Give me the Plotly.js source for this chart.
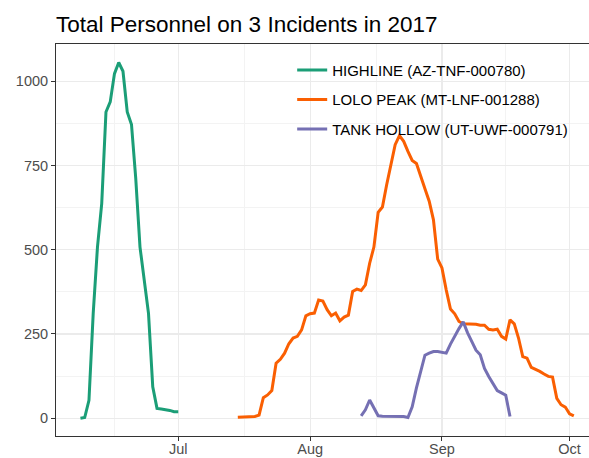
<!DOCTYPE html>
<html>
<head>
<meta charset="utf-8">
<script src="https://cdn.plot.ly/plotly-3.0.1.min.js"></script>
<style>
html, body { margin: 0; padding: 0; overflow: hidden; background: #fff; }
#chart { width: 600px; height: 458px; }
</style>
</head>
<body>
<div id="chart"></div>
<script>
// ---- data (daily values) ----
const seriesNames = ['HIGHLINE (AZ-TNF-000780)', 'LOLO PEAK (MT-LNF-001288)', 'TANK HOLLOW (UT-UWF-000791)'];
const highlineStart = '2017-06-08';
const lolopeakStart = '2017-07-15';
const tankhollowStart = '2017-08-13';

const highlineValues = [0, 2, 53, 311, 508, 637, 909, 939, 1023, 1056, 1030, 909, 872, 712, 508, 413, 311, 93, 29, 27, 26, 23, 19, 19];

const lolopeakValues = [3, 3, 3, 3, 5, 9, 61, 69, 82, 163,
  175, 193, 221, 238, 243, 262, 304, 310, 312, 351,
  348, 322, 304, 312, 289, 300, 306, 376, 383, 379,
  396, 460, 508, 611, 627, 693, 758, 812, 839, 822,
  792, 765, 756, 716, 681, 644, 589, 472, 446, 381,
  324, 310, 287, 280, 280, 279, 279, 276, 276, 264,
  262, 264, 243, 235, 292, 280, 238, 183, 178, 151,
  146, 139, 131, 124, 122, 59, 40, 33, 13, 7];

const tankhollowValues = [7, 25, 54, 29, 7, 6, 6, 6, 5, 5,
  5, 2, 34, 90, 138, 187, 193, 198, 198, 195,
  193, 220, 245, 266, 286, 254, 228, 202, 188, 148,
  124, 104, 82, 75, 68, 5];

const xTickVals = ['2017-07-01', '2017-08-01', '2017-09-01', '2017-10-01'];
const xTickText = ['Jul', 'Aug', 'Sep', 'Oct'];
const xMinorVals = ['2017-06-16', '2017-07-16 12:00', '2017-08-16 12:00', '2017-09-16'];
const yTickVals = [0, 250, 500, 750, 1000];
const yMinorVals = [125, 375, 625, 875];

const colors = ['#1B9E77', '#FA5F02', '#7570B3'];

// ---- build daily dates ----
function dailyDates(start, n) {
  const out = [];
  const d0 = new Date(start + 'T00:00:00Z');
  for (let i = 0; i < n; i++) {
    const d = new Date(d0.getTime() + i * 86400000);
    out.push(d.toISOString().slice(0, 10));
  }
  return out;
}

const starts = [highlineStart, lolopeakStart, tankhollowStart];
const values = [highlineValues, lolopeakValues, tankhollowValues];

const traces = values.map((v, i) => ({
  type: 'scatter',
  mode: 'lines',
  x: dailyDates(starts[i], v.length),
  y: v,
  name: seriesNames[i],
  legendgroup: 'g' + i,
  line: { color: colors[i], width: 3 },
  hoverinfo: 'skip'
}));

const font = 'Liberation Sans, Arial, sans-serif';

const layout = {
  width: 600,
  height: 458,
  margin: { l: 56, r: 6, t: 44, b: 22 },
  paper_bgcolor: '#fff',
  plot_bgcolor: '#fff',
  font: { family: font, color: '#4D4D4D' },
  title: {
    text: 'Total Personnel on 3 Incidents in 2017',
    x: 56 / 600, xref: 'container', xanchor: 'left',
    y: 1 - 24 / 458, yref: 'container', yanchor: 'middle',
    font: { family: font, size: 22.5, color: '#000' }
  },
  showlegend: true,
  legend: {
    x: 0.439, xanchor: 'left',
    y: 0.975, yanchor: 'top',
    bgcolor: 'rgba(0,0,0,0)',
    traceorder: 'grouped',
    tracegroupgap: 7,
    font: { family: font, size: 15, color: '#000' }
  },
  // white legend-key background (as in the reference, keys hide the grid)
  shapes: [{
    type: 'rect', layer: 'between',
    xref: 'paper', yref: 'paper',
    x0: 0.4368, x1: 0.4963, y0: 0.742, y1: 0.967,
    fillcolor: '#fff', line: { width: 0 }
  }],
  xaxis: {
    type: 'date',
    range: ['2017-06-02 06:00', '2017-10-06 18:00'],
    tickmode: 'array',
    tickvals: xTickVals,
    ticktext: xTickText,
    ticks: 'outside', ticklen: 4, tickwidth: 1, tickcolor: '#333',
    ticklabelstandoff: -4,
    tickfont: { family: font, size: 14.5, color: '#4D4D4D' },
    showgrid: true, gridcolor: '#EBEBEB', gridwidth: 1.2,
    minor: { tickmode: 'array', tickvals: xMinorVals, showgrid: true, gridcolor: '#F3F3F3', gridwidth: 1, ticks: '' },
    showline: true, linecolor: '#333', linewidth: 1, mirror: true,
    zeroline: false
  },
  yaxis: {
    range: [-52.9, 1110.9],
    tickmode: 'array',
    tickvals: yTickVals,
    ticks: 'outside', ticklen: 4, tickwidth: 1, tickcolor: '#333',
    tickfont: { family: font, size: 14.5, color: '#4D4D4D' },
    showgrid: true, gridcolor: '#EBEBEB', gridwidth: 1.2,
    minor: { tickmode: 'array', tickvals: yMinorVals, showgrid: true, gridcolor: '#F3F3F3', gridwidth: 1, ticks: '' },
    showline: true, linecolor: '#333', linewidth: 1, mirror: true,
    zeroline: false
  }
};

Plotly.newPlot('chart', traces, layout, { displayModeBar: false, staticPlot: true });
</script>
</body>
</html>
